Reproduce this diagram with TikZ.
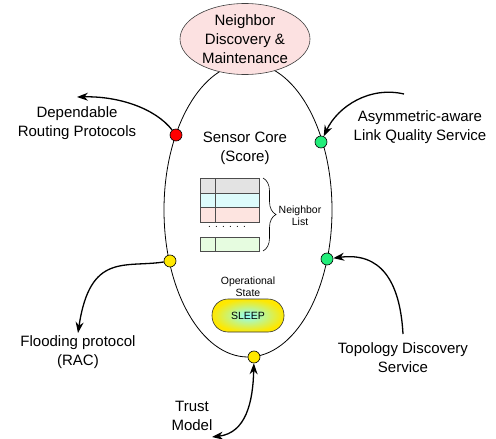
\documentclass[tikz,border=0pt]{standalone}
\usepackage{fontspec}
\setmainfont{Liberation Sans}
\usetikzlibrary{arrows.meta,shapes.geometric,decorations.pathreplacing}
\definecolor{pinkfill}{HTML}{FCE1E1}
\definecolor{portgreen}{HTML}{22EE7A}
\definecolor{portyellow}{HTML}{FFE800}
\definecolor{rowgray}{HTML}{E3E3E3}
\definecolor{rowcyan}{HTML}{DDFBFB}
\definecolor{rowpink}{HTML}{FDE4E0}
\definecolor{rowgreen}{HTML}{E6FCE0}
\begin{document}
\begin{tikzpicture}[x=1pt,y=-1pt,
  lab/.style={font=\fontsize{15}{19}\selectfont, align=center, inner sep=0pt},
  small/.style={font=\fontsize{10.5}{12}\selectfont, align=center, inner sep=0pt},
  port/.style={circle, draw=black, line width=0.6pt, minimum size=12pt, inner sep=0pt},
  link/.style={line width=1.3pt, -{Stealth[length=11pt,width=8pt]}},
  cell/.style={draw=black!70, line width=0.6pt}]
\useasboundingbox (0,0) rectangle (496,439);

% sensor core boundary
\draw[line width=0.8pt] (248,210) ellipse [x radius=84, y radius=147];

% neighbor discovery module on top
\node[ellipse, draw=black!75, line width=0.6pt, fill=pinkfill,
      minimum width=130pt, minimum height=71pt, lab] (ndm) at (245,39)
      {Neighbor\\Discovery \&\\Maintenance};

% ports on the core boundary
\node[port, fill=red] (pr) at (176,135) {};
\node[port, fill=portgreen] (pa) at (321,142) {};
\node[port, fill=portyellow] (pf) at (170,261) {};
\node[port, fill=portgreen] (pt) at (327,259) {};
\node[port, fill=portyellow] (pb) at (254,357) {};

% core contents
\node[lab] (core) at (245,148) {Sensor Core\\(Score)};

\draw[cell, fill=rowgray]  (200,178) rectangle (259,193);
\draw[cell, fill=rowcyan]  (200,193) rectangle (259,207.5);
\draw[cell, fill=rowpink]  (200,207.5) rectangle (259,222);
\draw[cell, fill=rowgreen] (200,237) rectangle (259,251);
\draw[cell] (215,178) -- (215,222);
\draw[cell] (215,237) -- (215,251);
\node[small, font=\fontsize{10}{12}\selectfont] (gap) at (227,227)
  {.\hspace{4.2pt}.\hspace{4.2pt}.\hspace{4.2pt}.\hspace{4.2pt}.\hspace{4.2pt}.};
\draw[decorate, decoration={brace, amplitude=13pt}, line width=0.6pt]
  (263,178) -- (263,251);
\node[small] (nlist) at (300,216) {Neighbor\\List};

\node[small] (opstate) at (248,287) {Operational\\State};
\node[draw=black!80, line width=0.6pt, rounded corners=16pt,
      inner color=cyan!45!white, outer color=portyellow,
      minimum width=72pt, minimum height=33pt, small] (sleep) at (248,315.5) {SLEEP};

% external services
\node[lab] (dep)   at (77,123)  {Dependable\\Routing Protocols};
\node[lab] (asym)  at (420,127) {Asymmetric-aware\\Link Quality Service};
\node[lab] (flood) at (78,352)  {Flooding protocol\\(RAC)};
\node[lab] (topo)  at (403,358) {Topology Discovery\\Service};
\node[lab] (trust) at (192,416) {Trust\\Model};

\coordinate (depend) at (77,97);
\coordinate (asymstart) at (404,94);
\coordinate (floodend) at (78,333);
\coordinate (topostart) at (403,334);
\coordinate (trustend) at (212,437);

% connectors
\draw[link] (pr) .. controls (155,108) and (118,96) .. (depend);
\draw[link] (asymstart) .. controls (370,86) and (338,106) .. (pa);
\draw[link] (pf) .. controls (125,268) and (90,252) .. (floodend);
\draw[link] (topostart) .. controls (400,280) and (380,252) .. (pt);
\draw[line width=1.3pt, {Stealth[length=11pt,width=8pt]}-{Stealth[length=11pt,width=8pt]}]
  (pb) .. controls (253,402) and (246,433) .. (trustend);
\end{tikzpicture}
\end{document}
